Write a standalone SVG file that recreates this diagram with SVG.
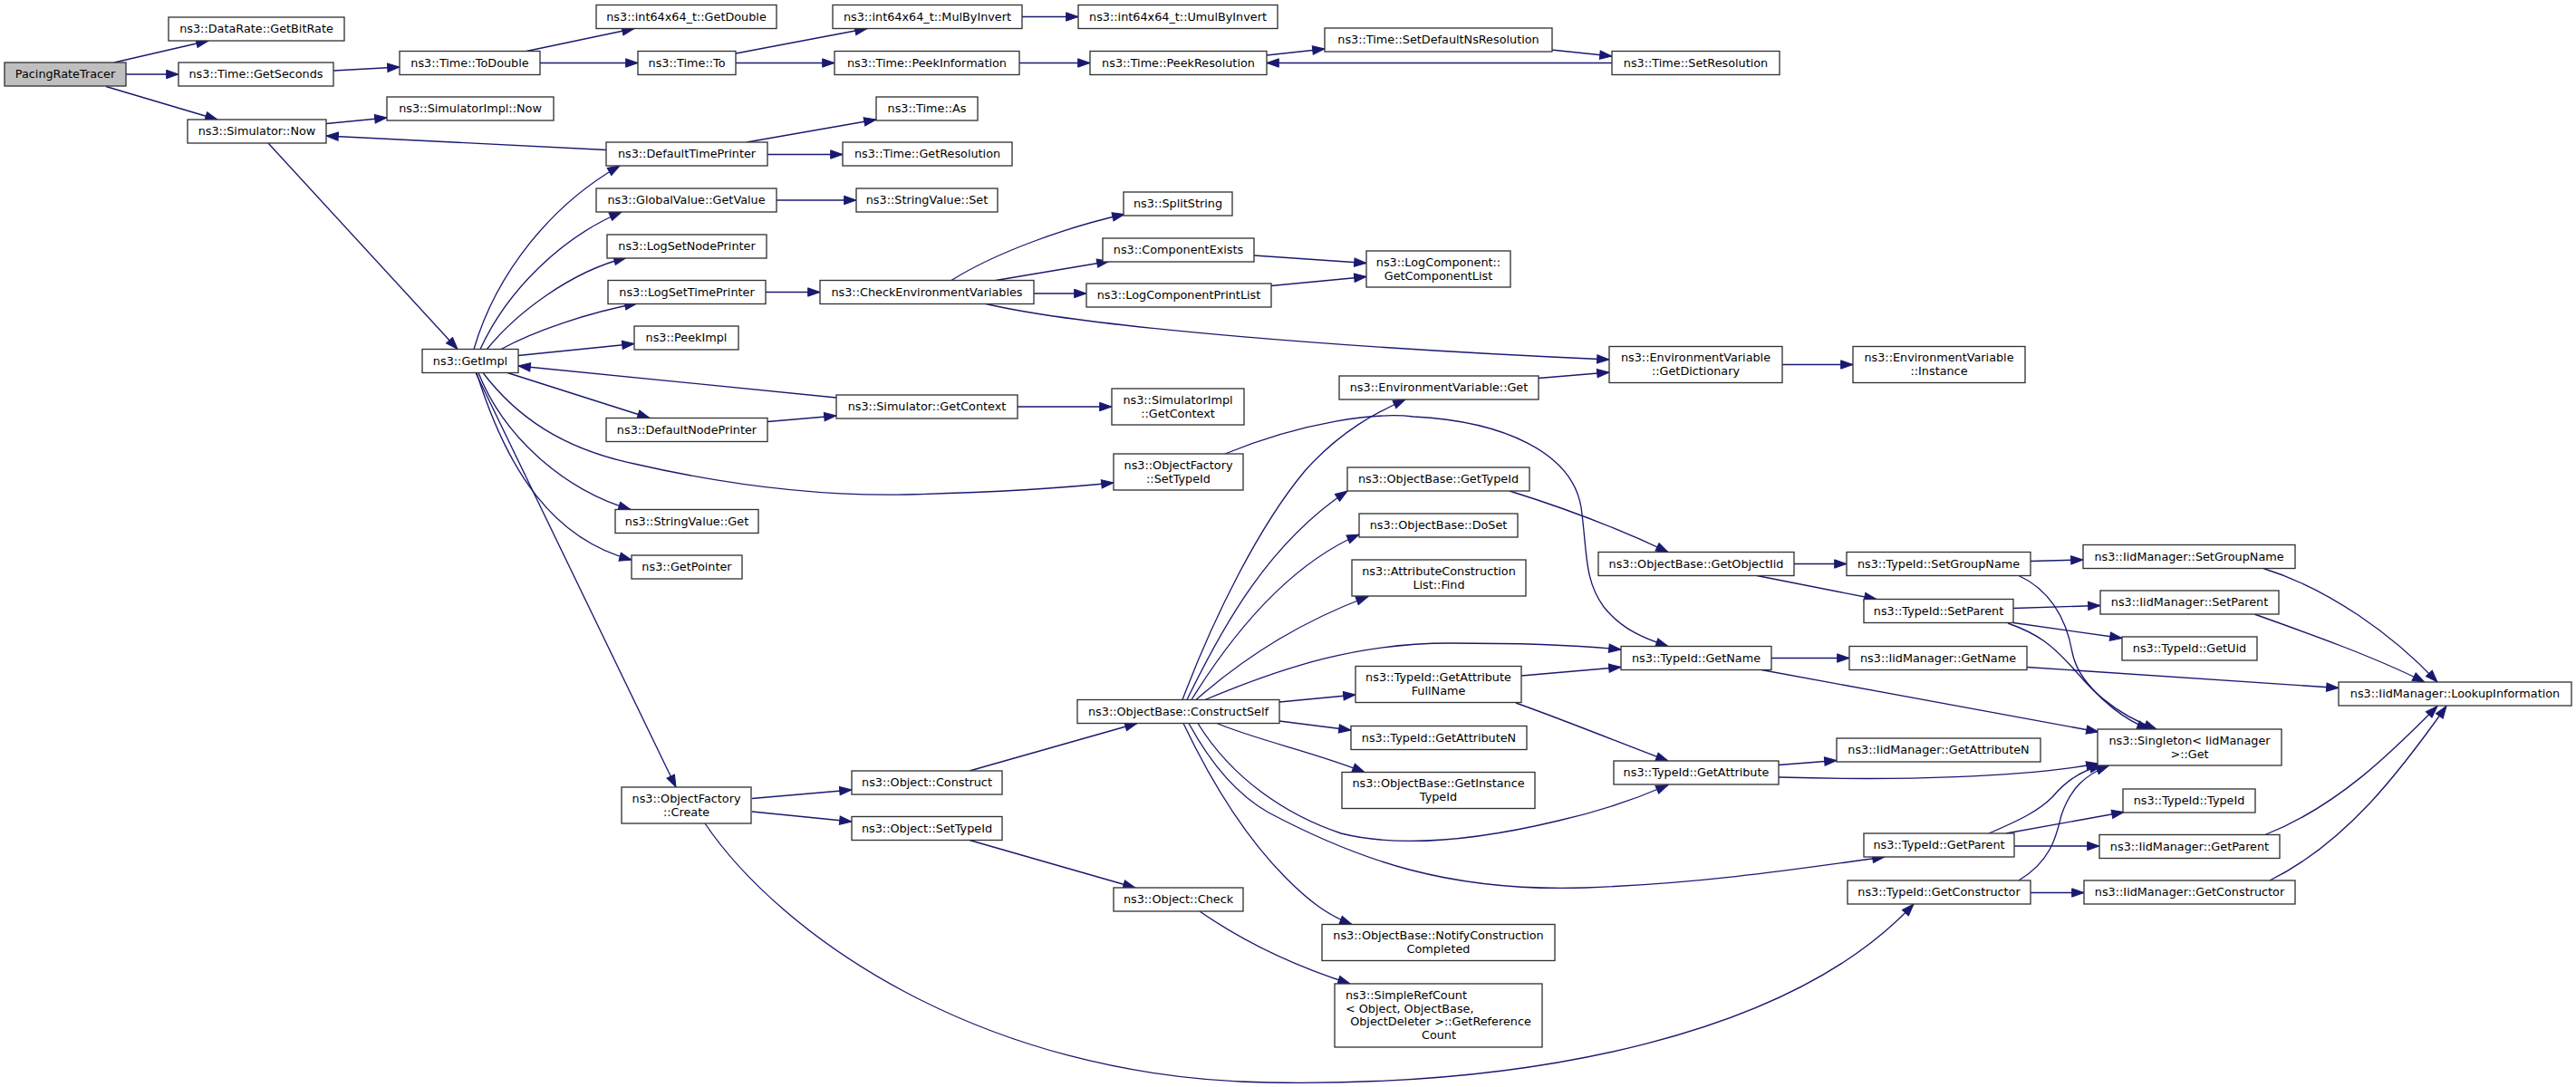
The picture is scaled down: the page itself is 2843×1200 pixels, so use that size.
<svg xmlns="http://www.w3.org/2000/svg" width="2843" height="1200" viewBox="0 0 2843 1200">
<style>
.n rect{fill:#ffffff;stroke:#333333;stroke-width:1.33}
.root rect{fill:#bfbfbf}
text{font-family:"DejaVu Sans","Liberation Sans",sans-serif;font-size:12.8px;text-anchor:middle;fill:#000}
text.l{text-anchor:start}
#edges path{fill:none;stroke:#191970;stroke-width:1.33;marker-end:url(#a)}
</style>
<defs>
<marker id="a" markerUnits="userSpaceOnUse" markerWidth="14" markerHeight="10" viewBox="0 0 14 10" refX="13.3" refY="5" orient="auto" overflow="visible">
<path d="M0,0.3 L13.3,5 L0,9.7 z" fill="#191970" stroke="#191970" stroke-width="1"/>
</marker>
</defs>
<rect width="2843" height="1200" fill="#ffffff"/>
<g id="edges">
<path d="M126,69 L230,45"/>
<path d="M139,82 L197,82"/>
<path d="M117,95.5 L240,132"/>
<path d="M368,78 L441,74"/>
<path d="M581,56.5 L700,31.5"/>
<path d="M596,69.5 L704,69.5"/>
<path d="M812,59 L957,31.5"/>
<path d="M812,69.5 L921,69.5"/>
<path d="M1128,18.5 L1190,18.5"/>
<path d="M1125,69.5 L1203,69.5"/>
<path d="M1398,61 L1462,54"/>
<path d="M1712,55 L1779,62"/>
<path d="M1779,69.5 L1398,69.5"/>
<path d="M360,136.5 L427,130"/>
<path d="M669,165.5 L360,150"/>
<path d="M296,158 L505,385.5"/>
<path d="M523,385.5 C548,300 610,225 684,183"/>
<path d="M530,385.5 C560,320 620,262 686,234"/>
<path d="M537,386 C570,345 630,300 691,284.5"/>
<path d="M553,385.5 C590,365 650,345 703,335"/>
<path d="M572,392.5 L700,379.5"/>
<path d="M923,439 L572,404"/>
<path d="M560,411.5 L717,461.5"/>
<path d="M533,411.5 C570,460 620,495 700,512 C800,535 900,548 1000,546 C1080,544 1160,540 1229,533"/>
<path d="M528,411.5 C555,480 620,540 696,562.5"/>
<path d="M526,411.5 C560,520 610,595 697,618"/>
<path d="M525,411.5 L746,869"/>
<path d="M824,157 L967,132"/>
<path d="M847,170.5 L930,170.5"/>
<path d="M857,221 L945,221"/>
<path d="M845,322.5 L905,322.5"/>
<path d="M1050,309.5 C1100,278 1180,250 1241,236.5"/>
<path d="M1099,309.5 L1224,288.5"/>
<path d="M1141,324 L1199,324"/>
<path d="M1086,335 C1200,362 1500,385 1776,397"/>
<path d="M1384,282 L1508,290.5"/>
<path d="M1403,315.5 L1508,305.5"/>
<path d="M1967,402.5 L2045,402.5"/>
<path d="M1698,417.5 L1776,411"/>
<path d="M1123,449 L1227,449"/>
<path d="M847,465.5 L923,459"/>
<path d="M1352,501 C1440,465 1520,455 1560,460 C1660,465 1735,500 1745,560 C1752,610 1748,640 1770,670 C1790,695 1815,705 1841,713.5"/>
<path d="M830,881.5 L940,872"/>
<path d="M830,896 L940,907"/>
<path d="M778,909 C860,1030 1080,1190 1400,1195 C1700,1200 1980,1140 2112,998"/>
<path d="M1070,851 L1255,798.5"/>
<path d="M1070,927.5 L1253,980"/>
<path d="M1324,1006 C1380,1045 1440,1070 1490,1086"/>
<path d="M1305,772.5 C1340,680 1390,580 1440,520 C1480,475 1520,455 1551,441"/>
<path d="M1310,772.5 C1350,690 1400,600 1487,542"/>
<path d="M1315,772.5 C1360,700 1420,625 1500,590"/>
<path d="M1320,772.5 C1380,720 1440,685 1510,658.5"/>
<path d="M1330,772.5 C1420,735 1500,710 1600,710 C1680,710 1740,712 1789,717"/>
<path d="M1412,775 L1496,767"/>
<path d="M1412,796 L1491,806"/>
<path d="M1343,798.5 C1390,818 1450,830 1506,852.5"/>
<path d="M1322,798.5 C1360,860 1420,900 1480,920 C1540,935 1620,930 1720,906 C1770,895 1810,880 1841,866.5"/>
<path d="M1312,798.5 C1340,850 1370,880 1400,897 C1500,950 1600,985 1750,980 C1880,975 1980,960 2080,946"/>
<path d="M1306,798.5 C1340,870 1380,930 1420,970 C1445,995 1465,1010 1492,1020.5"/>
<path d="M1666,542 C1740,565 1800,590 1841,609.5"/>
<path d="M1980,622.5 L2038,622.5"/>
<path d="M1939,635.5 L2071,661.5"/>
<path d="M1679,746 L1789,736.5"/>
<path d="M1673,776 C1740,800 1800,825 1841,840"/>
<path d="M1955,726.5 L2041,726.5"/>
<path d="M1944,739.5 L2316,808"/>
<path d="M1963,844.5 L2027,839.5"/>
<path d="M1963,858 C2100,862 2230,858 2316,843"/>
<path d="M2241,619.5 L2299,618"/>
<path d="M2228,635.5 C2260,650 2280,680 2287,720 C2295,760 2340,790 2380,805"/>
<path d="M2222,671.5 L2318,668.5"/>
<path d="M2222,687.5 L2342,704.5"/>
<path d="M2216,688 C2250,700 2265,712 2290,740 C2320,775 2345,795 2372,805"/>
<path d="M2237,736.5 L2581,759.5"/>
<path d="M2498,627.5 C2570,650 2640,700 2690,753"/>
<path d="M2488,678 C2550,700 2620,725 2676,753"/>
<path d="M2195,920 C2230,905 2250,895 2265,880 C2280,862 2297,850 2320,845.5"/>
<path d="M2214,920 L2344,896.5"/>
<path d="M2223,934 L2317,934"/>
<path d="M2228,972 C2265,950 2270,920 2275,900 C2285,870 2302,855 2327,845.5"/>
<path d="M2241,985.5 L2300,985.5"/>
<path d="M2500,921.5 C2580,890 2640,830 2690,779.5"/>
<path d="M2505,972 C2590,930 2650,850 2700,779.5"/>
</g>
<g id="n1" class="n root"><rect x="5" y="69" width="134" height="26"/><text x="72" y="86">PacingRateTracer</text></g>
<g id="n2" class="n"><rect x="186" y="19" width="194" height="26"/><text x="283" y="36">ns3::DataRate::GetBitRate</text></g>
<g id="n3" class="n"><rect x="197" y="69" width="171" height="26"/><text x="282.5" y="86">ns3::Time::GetSeconds</text></g>
<g id="n4" class="n"><rect x="441" y="56.5" width="155" height="26"/><text x="518.5" y="73.5">ns3::Time::ToDouble</text></g>
<g id="n5" class="n"><rect x="658" y="5.5" width="199" height="26"/><text x="757.5" y="22.5">ns3::int64x64_t::GetDouble</text></g>
<g id="n6" class="n"><rect x="704" y="56.5" width="108" height="26"/><text x="758" y="73.5">ns3::Time::To</text></g>
<g id="n7" class="n"><rect x="919" y="5.5" width="209" height="26"/><text x="1023.5" y="22.5">ns3::int64x64_t::MulByInvert</text></g>
<g id="n8" class="n"><rect x="1190" y="5.5" width="220" height="26"/><text x="1300" y="22.5">ns3::int64x64_t::UmulByInvert</text></g>
<g id="n9" class="n"><rect x="921" y="56.5" width="204" height="26"/><text x="1023" y="73.5">ns3::Time::PeekInformation</text></g>
<g id="n10" class="n"><rect x="1203" y="56.5" width="195" height="26"/><text x="1300.5" y="73.5">ns3::Time::PeekResolution</text></g>
<g id="n11" class="n"><rect x="1462" y="31" width="251" height="26"/><text x="1587.5" y="48">ns3::Time::SetDefaultNsResolution</text></g>
<g id="n12" class="n"><rect x="1779" y="56.5" width="185" height="26"/><text x="1871.5" y="73.5">ns3::Time::SetResolution</text></g>
<g id="n13" class="n"><rect x="207" y="132" width="153" height="26"/><text x="283.5" y="149">ns3::Simulator::Now</text></g>
<g id="n14" class="n"><rect x="427" y="107" width="184" height="26"/><text x="519" y="124">ns3::SimulatorImpl::Now</text></g>
<g id="n15" class="n"><rect x="669" y="157" width="178" height="26"/><text x="758" y="174">ns3::DefaultTimePrinter</text></g>
<g id="n16" class="n"><rect x="967" y="107" width="112" height="26"/><text x="1023" y="124">ns3::Time::As</text></g>
<g id="n17" class="n"><rect x="930" y="157" width="187" height="26"/><text x="1023.5" y="174">ns3::Time::GetResolution</text></g>
<g id="n18" class="n"><rect x="658" y="208" width="199" height="26"/><text x="757.5" y="225">ns3::GlobalValue::GetValue</text></g>
<g id="n19" class="n"><rect x="945" y="208" width="156" height="26"/><text x="1023" y="225">ns3::StringValue::Set</text></g>
<g id="n20" class="n"><rect x="670" y="259" width="176" height="26"/><text x="758" y="276">ns3::LogSetNodePrinter</text></g>
<g id="n21" class="n"><rect x="671" y="309.5" width="174" height="26"/><text x="758" y="326.5">ns3::LogSetTimePrinter</text></g>
<g id="n22" class="n"><rect x="905" y="309.5" width="236" height="26"/><text x="1023" y="326.5">ns3::CheckEnvironmentVariables</text></g>
<g id="n23" class="n"><rect x="1240" y="212" width="120" height="26"/><text x="1300" y="229">ns3::SplitString</text></g>
<g id="n24" class="n"><rect x="1217" y="263" width="167" height="26"/><text x="1300.5" y="280">ns3::ComponentExists</text></g>
<g id="n25" class="n"><rect x="1199" y="313" width="204" height="26"/><text x="1301" y="330">ns3::LogComponentPrintList</text></g>
<g id="n26" class="n"><rect x="1508" y="277" width="159" height="40"/><text x="1587.5" y="293.5">ns3::LogComponent::</text><text x="1587.5" y="308.5">GetComponentList</text></g>
<g id="n27" class="n"><rect x="700" y="360" width="115" height="26"/><text x="757.5" y="377">ns3::PeekImpl</text></g>
<g id="n28" class="n"><rect x="466" y="385.5" width="106" height="26"/><text x="519" y="402.5">ns3::GetImpl</text></g>
<g id="n29" class="n"><rect x="1776" y="382.5" width="191" height="40"/><text x="1871.5" y="399">ns3::EnvironmentVariable</text><text x="1871.5" y="414">::GetDictionary</text></g>
<g id="n30" class="n"><rect x="2045" y="382.5" width="190" height="40"/><text x="2140" y="399">ns3::EnvironmentVariable</text><text x="2140" y="414">::Instance</text></g>
<g id="n31" class="n"><rect x="1478" y="415" width="220" height="26"/><text x="1588" y="432">ns3::EnvironmentVariable::Get</text></g>
<g id="n32" class="n"><rect x="923" y="436" width="200" height="26"/><text x="1023" y="453">ns3::Simulator::GetContext</text></g>
<g id="n33" class="n"><rect x="1227" y="429" width="146" height="40"/><text x="1300" y="445.5">ns3::SimulatorImpl</text><text x="1300" y="460.5">::GetContext</text></g>
<g id="n34" class="n"><rect x="669" y="461.5" width="178" height="26"/><text x="758" y="478.5">ns3::DefaultNodePrinter</text></g>
<g id="n35" class="n"><rect x="1229" y="501" width="143" height="40"/><text x="1300.5" y="517.5">ns3::ObjectFactory</text><text x="1300.5" y="532.5">::SetTypeId</text></g>
<g id="n36" class="n"><rect x="679" y="562.5" width="158" height="26"/><text x="758" y="579.5">ns3::StringValue::Get</text></g>
<g id="n37" class="n"><rect x="697" y="613" width="122" height="26"/><text x="758" y="630">ns3::GetPointer</text></g>
<g id="n38" class="n"><rect x="686" y="869" width="143" height="40"/><text x="757.5" y="885.5">ns3::ObjectFactory</text><text x="757.5" y="900.5">::Create</text></g>
<g id="n39" class="n"><rect x="940" y="851" width="166" height="26"/><text x="1023" y="868">ns3::Object::Construct</text></g>
<g id="n40" class="n"><rect x="940" y="901.5" width="166" height="26"/><text x="1023" y="918.5">ns3::Object::SetTypeId</text></g>
<g id="n41" class="n"><rect x="1229" y="980" width="143" height="26"/><text x="1300.5" y="997">ns3::Object::Check</text></g>
<g id="n42" class="n"><rect x="1189" y="772.5" width="223" height="26"/><text x="1300.5" y="789.5">ns3::ObjectBase::ConstructSelf</text></g>
<g id="n43" class="n"><rect x="1487" y="516" width="201" height="26"/><text x="1587.5" y="533">ns3::ObjectBase::GetTypeId</text></g>
<g id="n44" class="n"><rect x="1500" y="567" width="175" height="26"/><text x="1587.5" y="584">ns3::ObjectBase::DoSet</text></g>
<g id="n45" class="n"><rect x="1492" y="618" width="192" height="40"/><text x="1588" y="634.5">ns3::AttributeConstruction</text><text x="1588" y="649.5">List::Find</text></g>
<g id="n46" class="n"><rect x="1496" y="735.5" width="183" height="40"/><text x="1587.5" y="752">ns3::TypeId::GetAttribute</text><text x="1587.5" y="767">FullName</text></g>
<g id="n47" class="n"><rect x="1491" y="801.5" width="194" height="26"/><text x="1588" y="818.5">ns3::TypeId::GetAttributeN</text></g>
<g id="n48" class="n"><rect x="1481" y="852.5" width="213" height="40"/><text x="1587.5" y="869">ns3::ObjectBase::GetInstance</text><text x="1587.5" y="884">TypeId</text></g>
<g id="n49" class="n"><rect x="1459" y="1020.5" width="257" height="40"/><text x="1587.5" y="1037">ns3::ObjectBase::NotifyConstruction</text><text x="1587.5" y="1052">Completed</text></g>
<g id="n50" class="n"><rect x="1473" y="1086" width="229" height="70"/><text class="l" x="1485" y="1103.25">ns3::SimpleRefCount</text><text class="l" x="1485" y="1117.75">&lt; Object, ObjectBase,</text><text x="1590" y="1132.25"> ObjectDeleter &gt;::GetReference</text><text x="1588" y="1146.75">Count</text></g>
<g id="n51" class="n"><rect x="1764" y="609.5" width="216" height="26"/><text x="1872" y="626.5">ns3::ObjectBase::GetObjectIid</text></g>
<g id="n52" class="n"><rect x="1789" y="713.5" width="166" height="26"/><text x="1872" y="730.5">ns3::TypeId::GetName</text></g>
<g id="n53" class="n"><rect x="1781" y="840" width="182" height="26"/><text x="1872" y="857">ns3::TypeId::GetAttribute</text></g>
<g id="n54" class="n"><rect x="2057" y="920" width="166" height="26"/><text x="2140" y="937">ns3::TypeId::GetParent</text></g>
<g id="n55" class="n"><rect x="2039" y="972" width="202" height="26"/><text x="2140" y="989">ns3::TypeId::GetConstructor</text></g>
<g id="n56" class="n"><rect x="2038" y="609.5" width="203" height="26"/><text x="2139.5" y="626.5">ns3::TypeId::SetGroupName</text></g>
<g id="n57" class="n"><rect x="2057" y="661.5" width="165" height="26"/><text x="2139.5" y="678.5">ns3::TypeId::SetParent</text></g>
<g id="n58" class="n"><rect x="2041" y="713.5" width="196" height="26"/><text x="2139" y="730.5">ns3::IidManager::GetName</text></g>
<g id="n59" class="n"><rect x="2027" y="815" width="225" height="26"/><text x="2139.5" y="832">ns3::IidManager::GetAttributeN</text></g>
<g id="n60" class="n"><rect x="2299" y="601.5" width="234" height="26"/><text x="2416" y="618.5">ns3::IidManager::SetGroupName</text></g>
<g id="n61" class="n"><rect x="2318" y="652" width="197" height="26"/><text x="2416.5" y="669">ns3::IidManager::SetParent</text></g>
<g id="n62" class="n"><rect x="2342" y="703" width="149" height="26"/><text x="2416.5" y="720">ns3::TypeId::GetUid</text></g>
<g id="n63" class="n"><rect x="2315" y="805" width="203" height="40"/><text x="2416.5" y="821.5">ns3::Singleton&lt; IidManager</text><text x="2416.5" y="836.5"> &gt;::Get</text></g>
<g id="n64" class="n"><rect x="2343" y="871" width="146" height="26"/><text x="2416" y="888">ns3::TypeId::TypeId</text></g>
<g id="n65" class="n"><rect x="2317" y="921.5" width="199" height="26"/><text x="2416.5" y="938.5">ns3::IidManager::GetParent</text></g>
<g id="n66" class="n"><rect x="2300" y="972" width="233" height="26"/><text x="2416.5" y="989">ns3::IidManager::GetConstructor</text></g>
<g id="n67" class="n"><rect x="2581" y="753" width="257" height="26"/><text x="2709.5" y="770">ns3::IidManager::LookupInformation</text></g>
</svg>
